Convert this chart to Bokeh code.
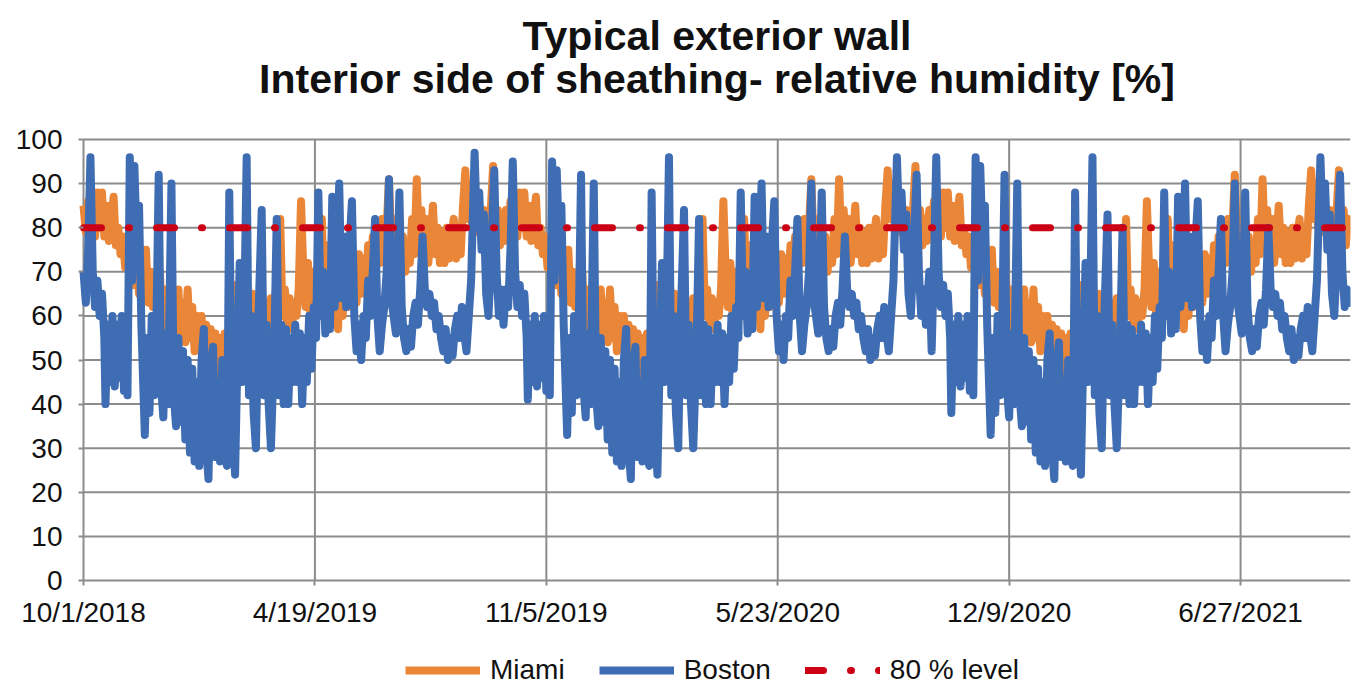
from bokeh.plotting import figure
from bokeh.models import FixedTicker, Legend, LegendItem, Range1d
from bokeh.core.properties import value
from bokeh.embed import file_html
from bokeh.resources import INLINE

# ---------------- text ----------------
title_lines = ["Typical exterior wall", "Interior side of sheathing- relative humidity [%]"]
series_names = ["Miami", "Boston", "80 % level"]

# ---------------- axes ----------------
# x is "days since 10/1/2018"; ticks every 200 days as in the reference
x_tick_days = [0, 200, 400, 600, 800, 1000]
x_tick_labels = ["10/1/2018", "4/19/2019", "11/5/2019", "5/23/2020", "12/9/2020", "6/27/2021"]
x_end_day = 1095
y_ticks = [0, 10, 20, 30, 40, 50, 60, 70, 80, 90, 100]
y_axis_max = 100
level_value = 80

# start day of each simulated season (10/1/2018, 10/1/2019, 10/1/2020)
season_start_day = [0, 365, 731]

# ---------------- Boston (day within season) ----------------
boston_day = [
    0, 2, 4, 6, 8, 10, 12, 14, 16, 18,
    19, 21, 23, 25, 27, 29, 31, 33, 35, 37,
    38, 40, 42, 44, 46, 48, 50, 53, 55, 57,
    59, 61, 63, 65, 67, 69, 71, 73, 76, 78,
    80, 82, 84, 86, 88, 90, 92, 94, 96, 98,
    100, 102, 104, 106, 108, 110, 112, 114, 116, 118,
    120, 122, 124, 126, 128, 131, 133, 135, 137, 139,
    141, 143, 145, 147, 149, 151, 154, 156, 158, 160,
    162, 165, 167, 169, 171, 173, 175, 177, 179, 181,
    183, 185, 187, 189, 191, 193, 195, 197, 199, 201,
    203, 205, 207, 209, 211, 213, 215, 217, 219, 221,
    223, 225, 227, 229, 232, 234, 236, 238, 240, 242,
    244, 246, 248, 250, 252, 254, 256, 258, 260, 262,
    264, 266, 268, 270, 273, 275, 277, 279, 281, 283,
    285, 287, 289, 291, 293, 295, 297, 299, 301, 303,
    305, 307, 309, 311, 313, 315, 317, 319, 321, 323,
    325, 327, 329, 331, 333, 335, 338, 340, 342, 344,
    346, 348, 350, 352, 355, 357, 359, 361, 363,
]
boston_rh_2018 = [
    70, 63, 75, 96, 70, 62, 68, 60, 65, 55,
    40, 58, 45, 60, 44, 58, 46, 60, 43, 55,
    42, 96, 68, 94, 76, 85, 58, 33, 55, 38,
    60, 42, 58, 92, 44, 37, 56, 40, 90, 42,
    35, 55, 36, 52, 32, 50, 29, 48, 27, 45,
    26, 50, 57, 30, 23, 48, 53, 28, 45, 27,
    50, 28, 26, 88, 40, 24, 50, 72, 45, 62,
    96, 42, 60, 38, 30, 58, 84, 42, 58, 40,
    30, 55, 82, 42, 58, 40, 57, 40, 55, 45,
    58, 45, 56, 40, 55, 45, 60, 48, 62, 55,
    88, 60, 70, 56, 66, 57, 87, 62, 72, 90,
    64, 78, 62, 72, 86, 60, 52, 58, 50, 60,
    55, 68, 60, 70, 82, 60, 52, 58, 62, 70,
    91, 64, 60, 56, 88, 62, 55, 52, 57, 53,
    60, 63, 58, 66, 78, 66, 62, 65, 60, 63,
    57, 60, 55, 52, 57, 50, 55, 51, 57, 60,
    55, 62, 56, 52, 60, 68, 97, 80, 88, 75,
    83, 65, 60, 72, 93, 70, 60, 66, 58,
]
boston_rh_2019 = [
    66, 62, 75, 95, 70, 62, 67, 60, 65, 55,
    41, 58, 45, 60, 44, 58, 46, 60, 43, 55,
    42, 95, 68, 93, 76, 85, 58, 33, 55, 38,
    60, 42, 58, 92, 44, 37, 56, 40, 90, 42,
    35, 55, 36, 52, 32, 50, 29, 48, 27, 45,
    26, 50, 57, 30, 23, 48, 53, 28, 45, 27,
    50, 28, 26, 88, 40, 24, 50, 72, 45, 62,
    96, 42, 60, 38, 30, 58, 84, 42, 58, 40,
    30, 55, 82, 42, 58, 40, 57, 40, 55, 45,
    58, 45, 56, 40, 55, 45, 60, 48, 62, 55,
    88, 60, 70, 56, 66, 57, 87, 62, 72, 90,
    64, 78, 62, 72, 86, 60, 52, 58, 50, 60,
    55, 68, 60, 70, 82, 60, 52, 58, 62, 70,
    90, 64, 60, 56, 88, 62, 55, 52, 57, 53,
    60, 63, 58, 66, 78, 66, 62, 65, 60, 63,
    57, 60, 55, 52, 57, 50, 55, 51, 57, 60,
    55, 62, 56, 52, 60, 68, 96, 80, 88, 75,
    83, 65, 60, 72, 92, 70, 60, 66, 58,
]
boston_rh_2020 = [
    70, 52, 72, 96, 70, 62, 67, 60, 65, 55,
    38, 58, 45, 60, 44, 58, 46, 60, 43, 55,
    42, 96, 68, 94, 76, 85, 58, 33, 55, 38,
    60, 42, 58, 92, 44, 37, 56, 40, 90, 42,
    35, 55, 36, 52, 32, 50, 29, 48, 27, 45,
    26, 50, 56, 30, 23, 48, 54, 28, 45, 27,
    50, 28, 26, 88, 40, 24, 50, 72, 45, 62,
    96, 42, 60, 38, 30, 58, 83, 42, 58, 40,
    30, 55, 80, 42, 58, 40, 57, 40, 55, 45,
    58, 45, 56, 40, 55, 45, 60, 48, 62, 55,
    88, 60, 70, 56, 66, 57, 87, 62, 72, 90,
    64, 78, 62, 72, 86, 60, 52, 58, 50, 60,
    55, 68, 60, 70, 82, 60, 52, 58, 62, 70,
    90, 64, 60, 56, 88, 62, 55, 52, 57, 53,
    60, 63, 58, 66, 80, 66, 62, 65, 60, 63,
    57, 60, 55, 52, 57, 50, 55, 51, 57, 60,
    55, 62, 56, 52, 60, 68, 96, 80, 90, 75,
    83, 65, 60, 72, 92, 70, 62, 66, 62,
]

# ---------------- Miami (every 2nd day of the season) ----------------
miami_day = list(range(0, 365, 2))
miami_rh_2018 = [
    85, 79, 86, 80, 84, 78, 88, 80, 88, 78,
    85, 77, 82, 87, 76, 80, 74, 78, 71, 75,
    69, 73, 67, 72, 65, 70, 64, 75, 63, 70,
    62, 68, 60, 70, 58, 66, 57, 64, 56, 63,
    55, 66, 56, 63, 54, 66, 55, 62, 52, 60,
    53, 60, 50, 58, 52, 57, 48, 56, 46, 55,
    44, 56, 47, 58, 50, 67, 52, 62, 55, 63,
    56, 64, 57, 65, 58, 64, 56, 66, 58, 63,
    56, 64, 58, 65, 60, 82, 60, 66, 58, 64,
    57, 63, 60, 66, 86, 70, 62, 72, 60, 70,
    58, 68, 60, 82, 62, 76, 58, 70, 60, 68,
    57, 72, 60, 70, 62, 74, 64, 72, 63, 74,
    65, 73, 66, 76, 68, 78, 70, 80, 72, 82,
    74, 80, 91, 76, 82, 74, 80, 72, 78, 70,
    76, 72, 82, 74, 91, 76, 84, 73, 82, 72,
    78, 85, 74, 80, 72, 79, 72, 80, 73, 78,
    82, 73, 80, 74, 85, 93, 82, 90, 80, 86,
    79, 85, 78, 84, 76, 80, 84, 94, 78, 84,
    76, 82, 77,
]
miami_rh_2019 = [
    84, 79, 86, 80, 84, 78, 88, 80, 88, 78,
    85, 77, 82, 87, 76, 80, 74, 78, 71, 75,
    69, 73, 67, 72, 65, 70, 64, 75, 63, 70,
    62, 68, 60, 70, 58, 66, 57, 64, 56, 63,
    55, 66, 56, 63, 54, 66, 55, 62, 52, 60,
    53, 60, 50, 58, 52, 57, 48, 56, 46, 55,
    44, 56, 47, 58, 50, 67, 52, 62, 55, 63,
    56, 64, 57, 65, 58, 64, 56, 66, 58, 63,
    56, 64, 58, 65, 60, 82, 60, 66, 58, 64,
    57, 63, 60, 66, 86, 70, 62, 72, 60, 70,
    58, 68, 60, 82, 62, 76, 58, 70, 60, 68,
    57, 72, 60, 70, 62, 74, 64, 72, 63, 74,
    65, 73, 66, 76, 68, 78, 70, 80, 72, 82,
    74, 80, 91, 76, 82, 74, 80, 72, 78, 70,
    76, 72, 82, 74, 91, 76, 84, 73, 82, 72,
    78, 85, 74, 80, 72, 79, 72, 80, 73, 78,
    82, 73, 80, 74, 85, 93, 82, 90, 80, 86,
    79, 85, 78, 84, 76, 80, 84, 94, 78, 84,
    76, 82, 77,
]
miami_rh_2020 = [
    84, 79, 86, 80, 84, 78, 88, 80, 88, 78,
    85, 77, 82, 87, 76, 80, 74, 78, 71, 75,
    69, 73, 67, 72, 65, 70, 64, 75, 63, 70,
    62, 68, 60, 70, 58, 66, 57, 64, 56, 63,
    55, 66, 56, 63, 54, 66, 55, 62, 52, 60,
    53, 60, 50, 58, 52, 57, 48, 56, 46, 55,
    44, 56, 47, 58, 50, 67, 52, 62, 55, 63,
    56, 64, 57, 65, 58, 64, 56, 66, 58, 63,
    56, 64, 58, 65, 60, 82, 60, 66, 58, 64,
    57, 63, 60, 66, 86, 70, 62, 72, 60, 70,
    58, 68, 60, 82, 62, 76, 58, 70, 60, 68,
    57, 72, 60, 70, 62, 74, 64, 72, 63, 74,
    65, 73, 66, 76, 68, 78, 70, 80, 72, 82,
    74, 80, 92, 76, 82, 74, 80, 72, 78, 70,
    76, 72, 82, 74, 91, 76, 84, 73, 82, 72,
    78, 85, 74, 80, 72, 79, 72, 80, 73, 78,
    82, 73, 80, 74, 85, 93, 82, 90, 80, 86,
    79, 85, 78, 84, 76, 80, 84, 93, 78, 84,
    76, 82, 78,
]

# ---------------- assemble series ----------------
def join_seasons(days, seasons):
    xs, ys = [], []
    for start, vals in zip(season_start_day, seasons):
        for d, v in zip(days, vals):
            if start + d <= x_end_day:
                xs.append(start + d)
                ys.append(v)
    return xs, ys

miami_x, miami_y = join_seasons(miami_day, [miami_rh_2018, miami_rh_2019, miami_rh_2020])
boston_x, boston_y = join_seasons(boston_day, [boston_rh_2018, boston_rh_2019, boston_rh_2020])
level_x = [0, x_end_day]
level_y = [level_value, level_value]

# ---------------- layout / styling ----------------
W, H = 1352, 687
RIGHT_PAD = 2
PLOT_LEFT_PX = 83                                # where day 0 sits on the page
PLOT_TOP_PX, PLOT_BOTTOM_PX = 139, 580           # where 100 % and 0 % sit on the page
PX_PER_DAY = (W - RIGHT_PAD - PLOT_LEFT_PX) / x_end_day
PX_PER_UNIT = (PLOT_BOTTOM_PX - PLOT_TOP_PX) / y_axis_max
X_MIN = -PLOT_LEFT_PX / PX_PER_DAY               # room on the left for the y tick labels
Y_MAX = y_axis_max + PLOT_TOP_PX / PX_PER_UNIT   # room above for the title
Y_MIN = -(H - PLOT_BOTTOM_PX) / PX_PER_UNIT      # room below for tick labels + legend
TITLE_Y = [Y_MAX - 35 / PX_PER_UNIT, Y_MAX - 78 / PX_PER_UNIT]
LEGEND_XY = (405, 1)                             # screen px from the frame's bottom-left

FONT = "Liberation Sans"
ORANGE = "#EA8638"
BLUE = "#3F6DB4"
RED = "#CC0014"
GRID = "#8C8C8C"
TEXT = "#111111"

p = figure(width=W, height=H, output_backend="svg", toolbar_location=None,
           title=None,
           x_range=Range1d(X_MIN, x_end_day), y_range=Range1d(Y_MIN, Y_MAX),
           min_border_left=0, min_border_right=RIGHT_PAD,
           min_border_top=0, min_border_bottom=0)
p.outline_line_color = None
p.background_fill_color = "white"
p.border_fill_color = "white"

# grid lines span only the 0..100 % by first..last day area
p.segment(x0=[0] * len(y_ticks), y0=y_ticks,
          x1=[x_end_day] * len(y_ticks), y1=y_ticks,
          line_color=GRID, line_width=2)
p.segment(x0=x_tick_days, y0=[0] * len(x_tick_days),
          x1=x_tick_days, y1=[y_axis_max] * len(x_tick_days),
          line_color=GRID, line_width=2)

r_miami = p.line(miami_x, miami_y, line_color=ORANGE, line_width=8, line_join="round")
r_boston = p.line(boston_x, boston_y, line_color=BLUE, line_width=8, line_join="round")
r_level = p.line(level_x, level_y, line_color=RED, line_width=7,
                 line_dash="18 27 1 27", line_cap="round")

# two-line centred title
p.text(x=[x_end_day / 2, x_end_day / 2], y=TITLE_Y, text=title_lines,
       text_font=value(FONT), text_font_size="41px", text_font_style="bold",
       text_color=TEXT, text_align="center", text_baseline="middle")

# axes, both pinned at the data origin
for ax in (p.xaxis, p.yaxis):
    ax.fixed_location = 0
    ax.axis_line_color = None
    ax.major_tick_line_color = GRID
    ax.major_tick_line_width = 2
    ax.major_tick_out = 5
    ax.major_tick_in = 0
    ax.minor_tick_line_color = None
    ax.major_label_text_font = FONT
    ax.major_label_text_font_size = "28px"
    ax.major_label_text_color = TEXT

p.xaxis.ticker = FixedTicker(ticks=x_tick_days)
p.xaxis.major_label_overrides = {d: lab for d, lab in zip(x_tick_days, x_tick_labels)}
p.xaxis.major_label_standoff = 11
p.yaxis.ticker = FixedTicker(ticks=y_ticks)
p.yaxis.major_label_standoff = 16

p.xgrid.visible = False
p.ygrid.visible = False

legend = Legend(items=[LegendItem(label=series_names[0], renderers=[r_miami]),
                       LegendItem(label=series_names[1], renderers=[r_boston]),
                       LegendItem(label=series_names[2], renderers=[r_level])],
                orientation="horizontal", location=LEGEND_XY,
                border_line_color=None, background_fill_alpha=0,
                label_text_font=FONT, label_text_font_size="28px", label_text_color=TEXT,
                glyph_width=75, glyph_height=24, label_standoff=10, spacing=34,
                padding=0, margin=0)
p.add_layout(legend, "center")

open("out.html", "w").write(file_html(p, INLINE))
